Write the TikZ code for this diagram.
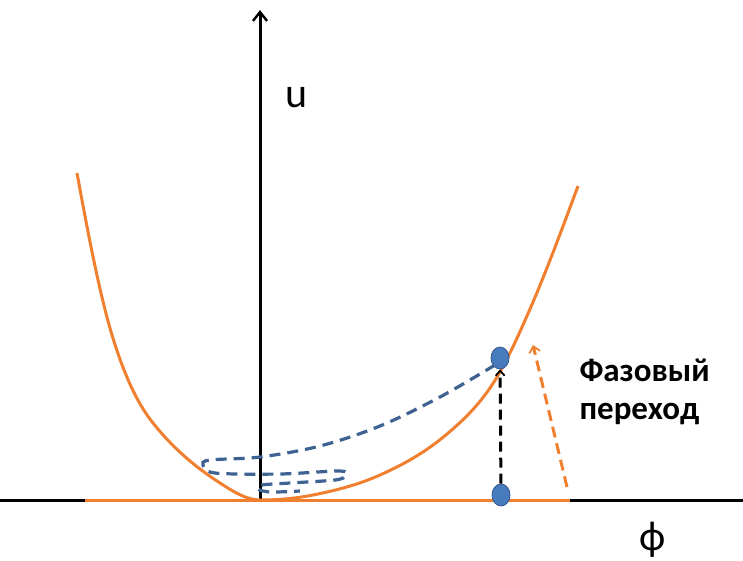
\documentclass[tikz,border=0pt]{standalone}
\usepackage{fontspec}
\setmainfont{Carlito}
\definecolor{phorange}{RGB}{240,128,48}
\definecolor{phblue}{RGB}{72,122,190}
\definecolor{phblueline}{RGB}{52,90,140}
\definecolor{phdash}{RGB}{62,98,145}
\usetikzlibrary{arrows.meta,positioning,shapes.geometric}

\begin{document}
\begin{tikzpicture}[
  x=1pt,y=-1pt,
  axis/.style={line width=3pt,black},
  curve/.style={line width=3pt,phorange},
  dot/.style={ellipse,draw=phblueline,fill=phblue,line width=0.8pt,
              minimum width=18pt,minimum height=22pt,inner sep=0pt},
  jump/.style={line width=3pt,black,dash pattern=on 10pt off 6pt,
               -{Straight Barb[length=5pt,width=9pt,line width=1.8pt]}},
  ojump/.style={line width=3pt,phorange,dash pattern=on 11pt off 6pt,
               -{Straight Barb[length=6pt,width=11pt,line width=1.8pt]}},
  spiral/.style={line width=3.2pt,phdash,dash pattern=on 11pt off 7pt},
  lbl/.style={font=\fontsize{42}{46}\selectfont},
  note/.style={font=\fontsize{33}{38}\selectfont\bfseries,align=left},
]
  \useasboundingbox (0,0) rectangle (743,560);

  % Axes
  \coordinate (xl) at (0,500);
  \coordinate (xr) at (743,500);
  \coordinate (yb) at (260,501);
  \coordinate (yt) at (260,10);
  \draw[axis] (xl) -- (xr);
  \draw[axis,-{Straight Barb[length=9pt,width=14pt,line width=2.4pt]}] (yb) -- (yt);
  \node[lbl] (u) at (297,98) {u};
  \node[lbl] (phi) at (653,540) {ф};

  % Potential
  \draw[curve] (85,500) -- (570,500);
  \draw[curve] (77,173)
    .. controls (88.7,237.4) and (100.3,296.4) .. (112,335)
    .. controls (125.7,380.2) and (139.3,405.9) .. (153,423)
    .. controls (175.3,450.9) and (197.7,468.5) .. (220,483)
    .. controls (233.3,491.7) and (246.7,500) .. (260,500)
    .. controls (277.7,500) and (295.3,498.5) .. (313,495)
    .. controls (335.3,490.5) and (357.7,485) .. (380,475)
    .. controls (402.3,465) and (424.7,453) .. (447,434)
    .. controls (462,421.25) and (477,407.5) .. (492,385)
    .. controls (504.7,366) and (517.3,338.2) .. (530,309)
    .. controls (546,272.2) and (562,229.2) .. (578,186);

  % Relaxation path
  \draw[spiral] plot[smooth,tension=0.55] coordinates {
    (495,365) (440,397) (380,426) (320,446) (260,457) (210,460) (203,465)
    (215,473) (280,474) (340,471) (345,476) (335,480) (290,483) (262,485)
    (258,489) (270,492) (300,491)};

  % States and transition
  \node[dot] (low) at (501,495) {};
  \node[dot] (high) at (500,358) {};
  \draw[jump] (low) -- (high);
  \coordinate (ostart) at (567,487);
  \coordinate (oend) at (533,345);
  \draw[ojump] (ostart) -- (oend);
  \node[note,anchor=west] (label) at (576,392) {Фазовый\\переход};
\end{tikzpicture}
\end{document}
